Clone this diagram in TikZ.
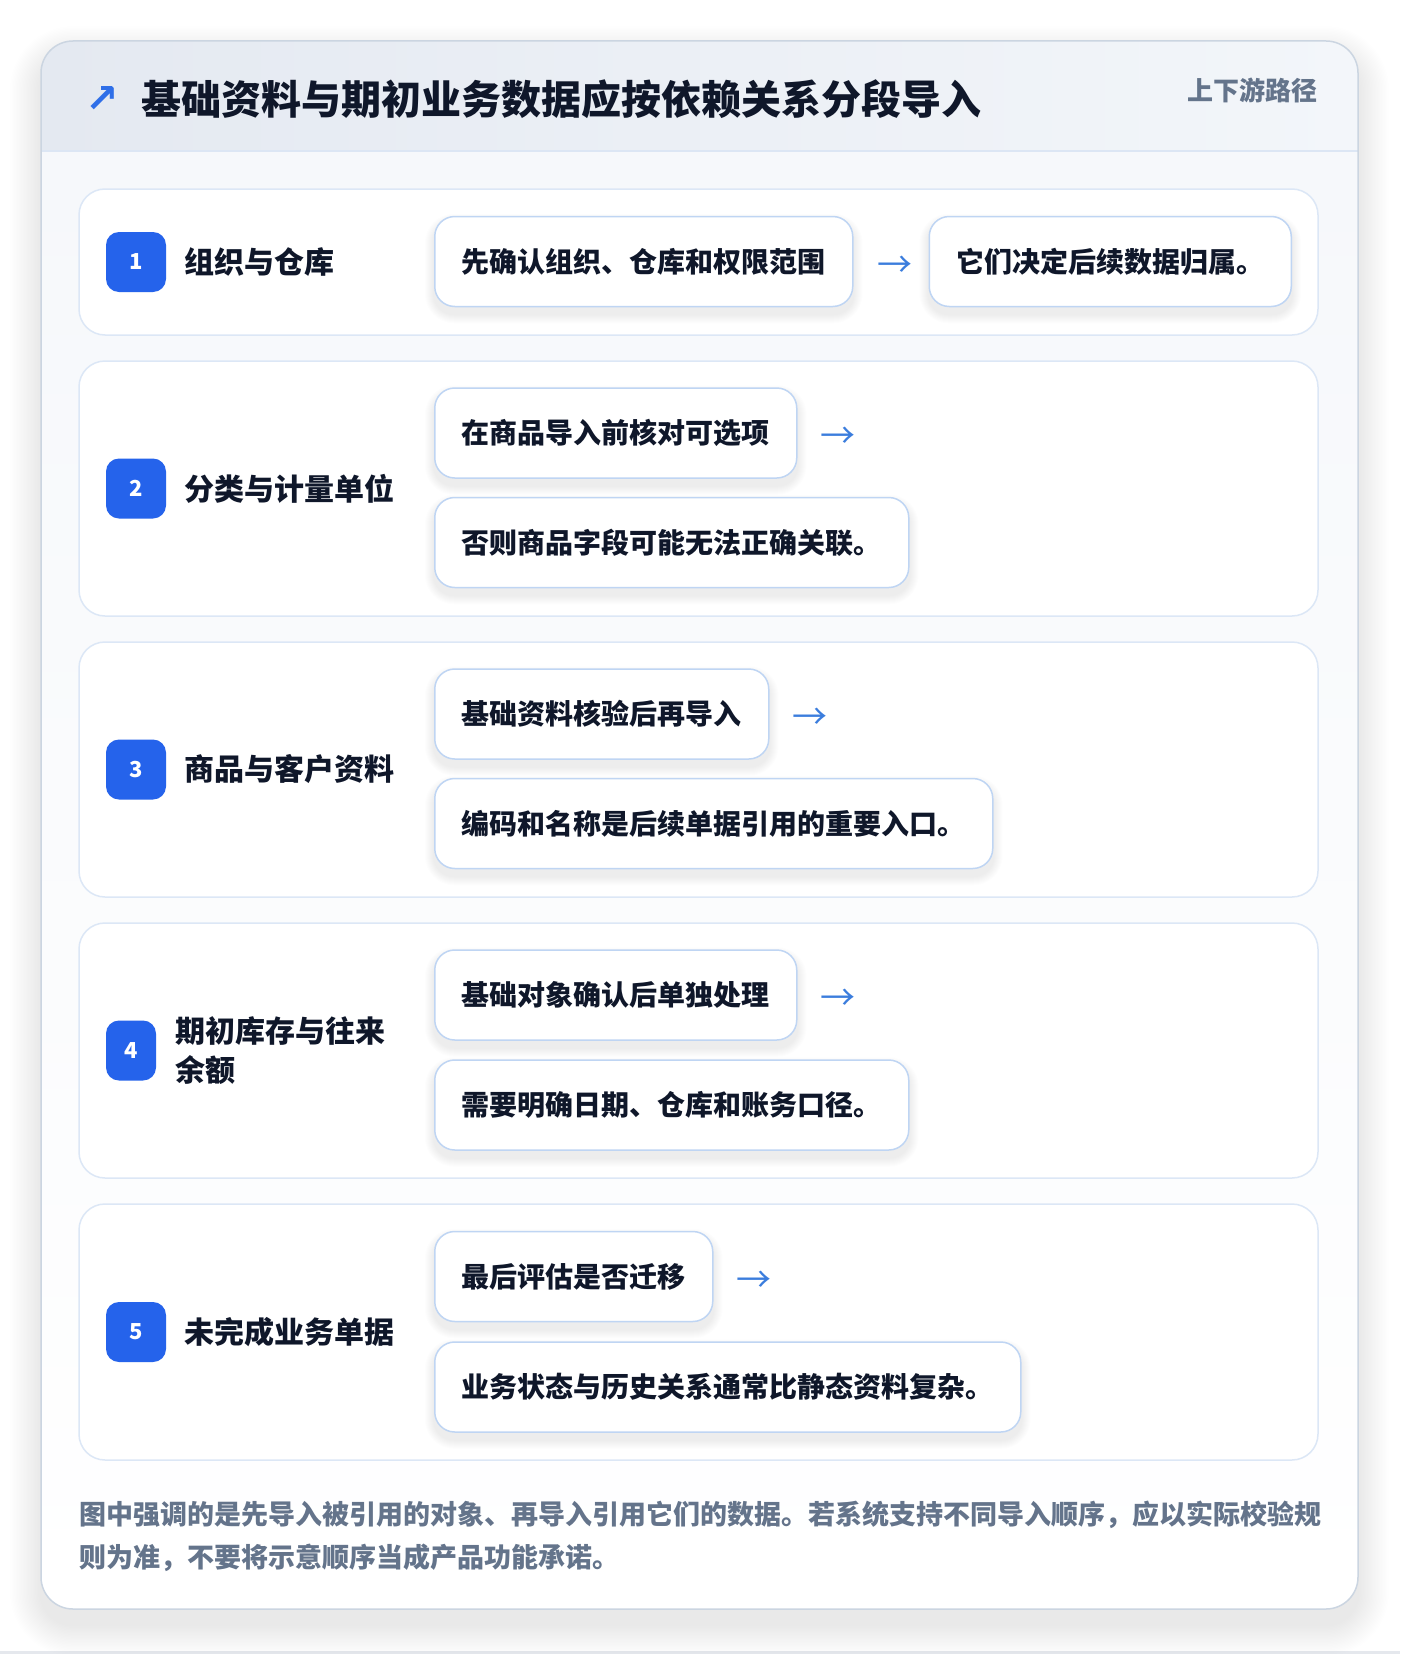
\documentclass[tikz,border=0pt]{standalone}
\usepackage{fontspec}
\setmainfont{Noto Sans CJK SC}
\newfontfamily\symfont{DejaVu Sans}
\definecolor{ink}{HTML}{0F172A}
\definecolor{muted}{HTML}{64748B}
\definecolor{badgeblue}{HTML}{2563EB}
\definecolor{arrowblue}{HTML}{3B7DDD}
\definecolor{iconblue}{HTML}{2F6FE8}
\definecolor{boxborder}{HTML}{BFD5F3}
\definecolor{rowborder}{HTML}{DCE7F6}
\definecolor{cardborder}{HTML}{CBD5E1}
\definecolor{hdrL}{HTML}{E4E9F1}
\definecolor{hdrR}{HTML}{F3F6FA}
\definecolor{hdrline}{HTML}{DCE6F4}
\definecolor{bodyT}{HTML}{F6F8FB}
\definecolor{pagebot}{HTML}{E5E8ED}
\definecolor{shadowcol}{HTML}{1E293B}
\pgfdeclarelayer{cardlayer}
\pgfdeclarelayer{shadowlayer}
\pgfsetlayers{cardlayer,shadowlayer,main}
\newcommand{\softshadow}[1]{%
  \begin{pgfonlayer}{shadowlayer}
  \foreach \i in {1,...,9} {
    \fill[shadowcol, opacity=0.009, rounded corners={(20+\i)*1pt}]
      ([xshift={-\i*1pt}, yshift={(\i-7)*1pt}]#1.north west) rectangle
      ([xshift={\i*1pt}, yshift={(-7-\i)*1pt}]#1.south east);
  }
  \end{pgfonlayer}}
\begin{document}
\begin{tikzpicture}[x=1pt,y=-1pt,
  rowcard/.style={draw=rowborder, fill=white, line width=1.5pt, rounded corners=26pt, inner sep=0pt, minimum width=1239pt},
  badge/.style={fill=badgeblue, text=white, rounded corners=13pt, minimum width=60pt, minimum height=60pt, inner sep=0pt, font=\fontsize{22}{22}\selectfont\bfseries},
  rowlabel/.style={anchor=west, inner sep=0pt, text=ink, align=left, font=\fontsize{30}{39}\selectfont\bfseries},
  stepbox/.style={anchor=west, draw=boxborder, fill=white, line width=1.5pt, rounded corners=20pt, minimum height=90pt, inner xsep=27pt, inner ysep=0pt, text=ink, font=\fontsize{28}{28}\selectfont\bfseries},
  flowarrow/.style={inner sep=0pt, text=arrowblue, font=\fontsize{35}{35}\selectfont},
]
\useasboundingbox (0,0) rectangle (1400,1654);
\begin{pgfonlayer}{cardlayer}
\fill[white] (0,0) rectangle (1400,1654);
\fill[pagebot] (0,1651) rectangle (1400,1654);
% outer card soft shadow
\foreach \i in {1,...,22} {
  \fill[shadowcol, opacity=0.005, rounded corners={(32+\i*1.4)*1pt}]
    ({41-\i*1.4},{41+16-\i*1.4}) rectangle ({1358+\i*1.4},{1609+16+\i*1.4});
}
\fill[white, rounded corners=32pt] (41,41) rectangle (1358,1609);
\begin{scope}
  \clip[rounded corners=32pt] (41,41) rectangle (1358,1609);
  \shade[left color=hdrL, right color=hdrR] (41,41) rectangle (1358,151);
  \shade[top color=bodyT, bottom color=white] (41,151) rectangle (1358,1609);
\end{scope}
\draw[hdrline, line width=1.5pt] (41,151) -- (1358,151);
\draw[cardborder, line width=1.5pt, rounded corners=32pt] (41,41) rectangle (1358,1609);
% row cards
\node[rowcard, minimum height=146pt] (r1) at (698.5,262) {};
\node[rowcard, minimum height=255pt] (r2) at (698.5,488.5) {};
\node[rowcard, minimum height=255pt] (r3) at (698.5,769.5) {};
\node[rowcard, minimum height=255pt] (r4) at (698.5,1050.5) {};
\node[rowcard, minimum height=256pt] (r5) at (698.5,1332) {};
\end{pgfonlayer}
% header
\node[inner sep=0pt, text=iconblue, font=\fontsize{40}{40}\selectfont\symfont\bfseries] (icon) at (102,100) {↗};
\node[anchor=west, inner sep=0pt, text=ink, font=\fontsize{40}{40}\selectfont\bfseries] (title) at (141,99) {基础资料与期初业务数据应按依赖关系分段导入};
\node[anchor=east, inner sep=0pt, text=muted, font=\fontsize{26}{26}\selectfont\bfseries] (tag) at (1318,90) {上下游路径};
% badges and labels
\node[badge] (n1) at (136,262) {1};
\node[rowlabel] (l1) at (184,262) {组织与仓库};
\node[badge] (n2) at (136,488.5) {2};
\node[rowlabel] (l2) at (184,488.5) {分类与计量单位};
\node[badge] (n3) at (136,769.5) {3};
\node[rowlabel] (l3) at (184,769.5) {商品与客户资料};
\node[badge, minimum width=50pt] (n4) at (131,1050.5) {4};
\node[rowlabel] (l4) at (175,1051) {期初库存与往来\\余额};
\node[badge] (n5) at (136,1332) {5};
\node[rowlabel] (l5) at (184,1332) {未完成业务单据};
% row 1
\node[stepbox] (a1) at (434,261.5) {先确认组织、仓库和权限范围};
\node[flowarrow] (ar1) at ([xshift=41pt,yshift=-5pt]a1.east) {→};
\node[stepbox] (b1) at ([xshift=75pt]a1.east) {它们决定后续数据归属。};
% row 2
\node[stepbox] (a2) at (434,433) {在商品导入前核对可选项};
\node[flowarrow] (ar2) at ([xshift=40pt,yshift=-5pt]a2.east) {→};
\node[stepbox] (b2) at (434,542.5) {否则商品字段可能无法正确关联。};
% row 3
\node[stepbox] (a3) at (434,714) {基础资料核验后再导入};
\node[flowarrow] (ar3) at ([xshift=40pt,yshift=-5pt]a3.east) {→};
\node[stepbox] (b3) at (434,823.5) {编码和名称是后续单据引用的重要入口。};
% row 4
\node[stepbox] (a4) at (434,995) {基础对象确认后单独处理};
\node[flowarrow] (ar4) at ([xshift=40pt,yshift=-5pt]a4.east) {→};
\node[stepbox] (b4) at (434,1105) {需要明确日期、仓库和账务口径。};
% row 5
\node[stepbox] (a5) at (434,1276.5) {最后评估是否迁移};
\node[flowarrow] (ar5) at ([xshift=40pt,yshift=-5pt]a5.east) {→};
\node[stepbox] (b5) at (434,1387) {业务状态与历史关系通常比静态资料复杂。};
% box shadows
\softshadow{a1}\softshadow{b1}
\softshadow{a2}\softshadow{b2}
\softshadow{a3}\softshadow{b3}
\softshadow{a4}\softshadow{b4}
\softshadow{a5}\softshadow{b5}
% footer
\node[anchor=west, inner sep=0pt, align=left, text=muted, font=\fontsize{27}{43}\selectfont\bfseries] (foot) at (79,1536.5) {图中强调的是先导入被引用的对象、再导入引用它们的数据。若系统支持不同导入顺序，应以实际校验规\\则为准，不要将示意顺序当成产品功能承诺。};
\end{tikzpicture}
\end{document}
